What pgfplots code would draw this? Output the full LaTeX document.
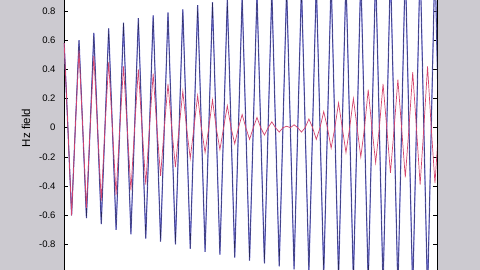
\documentclass[border=0pt]{standalone}
\usepackage{pgfplots}
\pgfplotsset{compat=1.18}
\usepackage{fontspec}
\setmainfont{Liberation Sans}
\definecolor{figgrey}{RGB}{204,202,208}
\definecolor{bluel}{RGB}{120,120,220}
\definecolor{navy}{RGB}{40,40,90}
\definecolor{redl}{RGB}{212,68,110}
\begin{document}
\begin{tikzpicture}[x=1pt,y=1pt]
\fill[figgrey] (0,0) rectangle (480,270);
\begin{axis}[at={(64pt,0pt)}, anchor=south west, scale only axis,
  width=373pt, height=270pt,
  xmin=-0.05, xmax=100.55, ymin=-0.975, ymax=0.875,
  axis background/.style={fill=white},
  separate axis lines,
  x axis line style={draw=none},
  y axis line style={black, line width=0.6pt},
  xtick=\empty,
  ytick={-0.8,-0.6,-0.4,-0.2,0,0.2,0.4,0.6,0.8},
  tick align=inside, major tick length=4pt,
  tick style={black, line width=0.5pt},
  /pgf/number format/assume math mode=true,
  yticklabel={\pgfmathprintnumber[fixed,precision=1]{\tick}},
  yticklabel style={font=\fontsize{9.5}{11}\selectfont, xshift=-5pt},
  ylabel={Hz field},
  every axis y label/.style={at={(axis description cs:-0.102,0.526)}, rotate=90, anchor=center, font=\fontsize{11.5}{13}\selectfont},
  clip=true]
\pgfplotstableread{
n y
0 0.58
1 0
2 -0.60
3 0
4 0.60
5 0
6 -0.62
7 0
8 0.65
9 0
10 -0.66
11 0
12 0.68
13 0
14 -0.70
15 0
16 0.72
17 0
18 -0.73
19 0
20 0.75
21 0
22 -0.76
23 0
24 0.77
25 0
26 -0.78
27 0
28 0.79
29 0
30 -0.80
31 0
32 0.81
33 0
34 -0.83
35 0
36 0.84
37 0
38 -0.85
39 0
40 0.86
41 0
42 -0.87
43 0
44 0.88
45 0
46 -0.89
47 0
48 0.90
49 0
50 -0.91
51 0
52 0.92
53 0
54 -0.93
55 0
56 0.94
57 0
58 -0.95
59 0
60 0.96
61 0
62 -0.97
63 0
64 0.98
65 0
66 -0.99
67 0
68 1.00
69 0
70 -1.01
71 0
72 1.02
73 0
74 -1.03
75 0
76 1.04
77 0
78 -1.05
79 0
80 1.06
81 0
82 -1.07
83 0
84 1.08
85 0
86 -1.09
87 0
88 1.10
89 0
90 -1.11
91 0
92 1.12
93 0
94 -1.13
95 0
96 1.14
97 0
98 -1.15
99 0
100 1.16
101 0
}\bluedata
\addplot[bluel, line width=1.2pt] table[x=n,y=y] {\bluedata};
\addplot[navy, line width=0.45pt] table[x=n,y=y] {\bluedata};
\addplot[redl, line width=0.7pt] table {
0 0.58
1 0
2 -0.60
3 0
4 0.53
5 0
6 -0.55
7 0
8 0.49
9 0
10 -0.50
11 0
12 0.45
13 0
14 -0.46
15 0
16 0.42
17 0
18 -0.43
19 0
20 0.40
21 0
22 -0.39
23 0
24 0.37
25 0
26 -0.33
27 0
28 0.30
29 0
30 -0.27
31 0
32 0.25
33 0
34 -0.21
35 0
36 0.22
37 0
38 -0.17
39 0
40 0.19
41 0
42 -0.15
43 0
44 0.15
45 0
46 -0.11
47 0
48 0.09
49 0
50 -0.08
51 0
52 0.07
53 0
54 -0.05
55 0
56 0.04
57 0
58 -0.03
59 0
60 0.01
61 0
62 0.02
63 0
64 -0.03
65 0
66 0.06
67 0
68 -0.08
69 0
70 0.11
71 0
72 -0.14
73 0
74 0.17
75 0
76 -0.17
77 0
78 0.20
79 0
80 -0.20
81 0
82 0.26
83 0
84 -0.24
85 0
86 0.30
87 0
88 -0.31
89 0
90 0.33
91 0
92 -0.34
93 0
94 0.38
95 0
96 -0.39
97 0
98 0.42
99 0
100 -0.38
101 0
};
\end{axis}
\pgfresetboundingbox
\path[use as bounding box] (0,0) rectangle (480,270);
\end{tikzpicture}
\end{document}
